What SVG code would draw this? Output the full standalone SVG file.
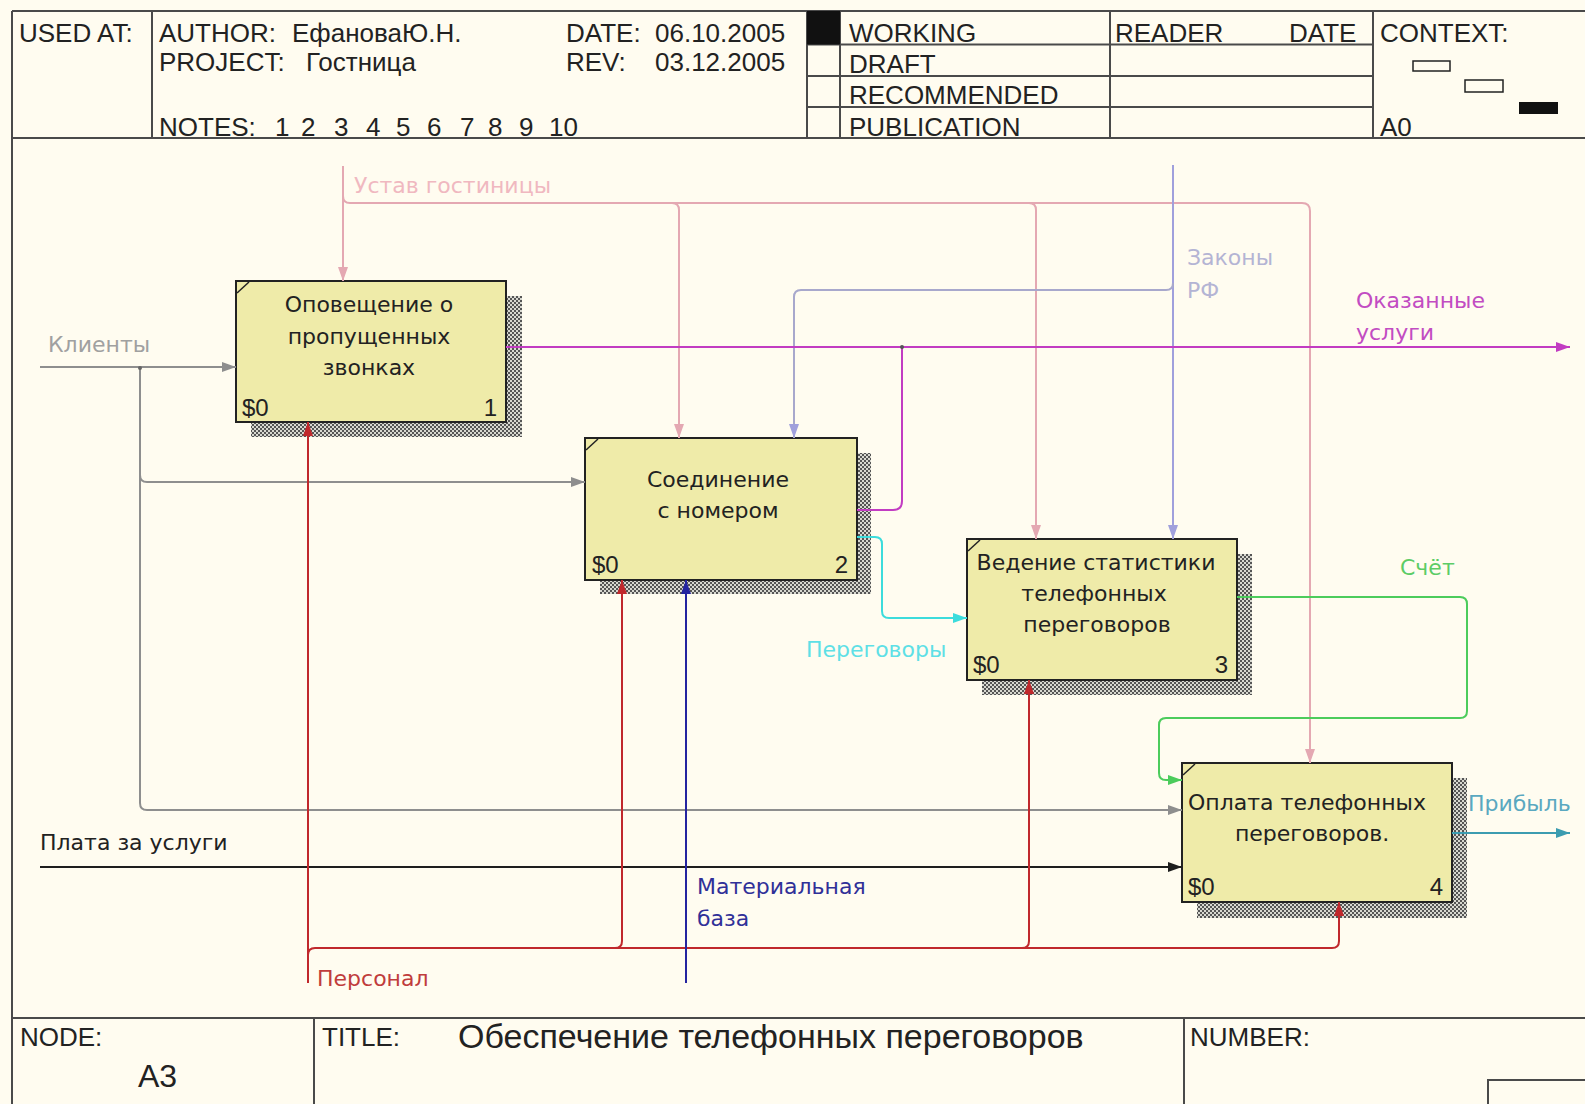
<svg xmlns="http://www.w3.org/2000/svg" width="1585" height="1104" viewBox="0 0 1585 1104">
<defs>
<pattern id="hatch" width="4" height="4" patternUnits="userSpaceOnUse">
<rect width="4" height="4" fill="#d8d8d0"/>
<rect width="2" height="2" fill="#555"/>
<rect x="2" y="2" width="2" height="2" fill="#555"/>
</pattern>
<marker id="mPink" markerUnits="userSpaceOnUse" markerWidth="14" markerHeight="10" refX="14" refY="5" orient="auto"><path d="M0,0 L14,5 L0,10 z" fill="#e4a8b2"/></marker>
<marker id="mLav" markerUnits="userSpaceOnUse" markerWidth="14" markerHeight="10" refX="14" refY="5" orient="auto"><path d="M0,0 L14,5 L0,10 z" fill="#a0a0dc"/></marker>
<marker id="mGray" markerUnits="userSpaceOnUse" markerWidth="14" markerHeight="10" refX="14" refY="5" orient="auto"><path d="M0,0 L14,5 L0,10 z" fill="#8e8e8e"/></marker>
<marker id="mMag" markerUnits="userSpaceOnUse" markerWidth="14" markerHeight="10" refX="14" refY="5" orient="auto"><path d="M0,0 L14,5 L0,10 z" fill="#c23cc2"/></marker>
<marker id="mCyan" markerUnits="userSpaceOnUse" markerWidth="14" markerHeight="10" refX="14" refY="5" orient="auto"><path d="M0,0 L14,5 L0,10 z" fill="#3cdcdc"/></marker>
<marker id="mGreen" markerUnits="userSpaceOnUse" markerWidth="14" markerHeight="10" refX="14" refY="5" orient="auto"><path d="M0,0 L14,5 L0,10 z" fill="#4ccc5c"/></marker>
<marker id="mTeal" markerUnits="userSpaceOnUse" markerWidth="14" markerHeight="10" refX="14" refY="5" orient="auto"><path d="M0,0 L14,5 L0,10 z" fill="#3c9cb0"/></marker>
<marker id="mBlack" markerUnits="userSpaceOnUse" markerWidth="14" markerHeight="10" refX="14" refY="5" orient="auto"><path d="M0,0 L14,5 L0,10 z" fill="#1e1e1e"/></marker>
<marker id="mRed" markerUnits="userSpaceOnUse" markerWidth="14" markerHeight="10" refX="14" refY="5" orient="auto"><path d="M0,0 L14,5 L0,10 z" fill="#c0282c"/></marker>
<marker id="mBlue" markerUnits="userSpaceOnUse" markerWidth="14" markerHeight="10" refX="14" refY="5" orient="auto"><path d="M0,0 L14,5 L0,10 z" fill="#2424a0"/></marker>
</defs>
<style>
.frame{stroke:#4a4a4a;stroke-width:2;fill:none}
.hdr{font-family:"Liberation Sans",Arial,sans-serif;font-size:26px;fill:#222}
.box{fill:#efeba9;stroke:#222;stroke-width:2}
.shadow{fill:url(#hatch)}
.tick{stroke:#222;stroke-width:1.5}
.bt{font-family:"DejaVu Sans",Verdana,sans-serif;font-size:22px;fill:#222;text-anchor:middle}
.bn{font-family:"Liberation Sans",Arial,sans-serif;font-size:24px;fill:#222}
.lbl{font-family:"DejaVu Sans",Verdana,sans-serif;font-size:22px}
.c{fill:none;stroke-width:2}
</style>
<rect width="1585" height="1104" fill="#fffcf0"/>

<g id="frame">
<path class="frame" d="M12,11 H1585 M12,11 V1104 M12,138 H1585 M152,11 V138 M807,11 V138 M840,11 V138 M1110,11 V138 M1373,11 V138 M807,44.5 H1373 M807,76 H1373 M807,107 H1373 M12,1018 H1585 M314,1018 V1104 M1184,1018 V1104"/>
<rect x="807" y="11" width="33" height="33.5" fill="#111"/>
<rect x="1488" y="1080" width="110" height="40" fill="none" stroke="#4a4a4a" stroke-width="2"/>
<rect x="1413" y="61" width="37" height="10" fill="none" stroke="#222" stroke-width="1.5"/>
<rect x="1465" y="80" width="38" height="12" fill="none" stroke="#222" stroke-width="1.5"/>
<rect x="1519" y="102" width="39" height="12" fill="#111"/>
<text class="hdr" x="19" y="42">USED AT:</text>
<text class="hdr" x="159" y="42">AUTHOR:</text>
<text class="hdr" x="292" y="42">ЕфановаЮ.Н.</text>
<text class="hdr" x="566" y="42">DATE:</text>
<text class="hdr" x="655" y="42">06.10.2005</text>
<text class="hdr" x="159" y="71">PROJECT:</text>
<text class="hdr" x="306" y="71">Гостница</text>
<text class="hdr" x="566" y="71">REV:</text>
<text class="hdr" x="655" y="71">03.12.2005</text>
<text class="hdr" y="136"><tspan x="159">NOTES:</tspan><tspan x="275">1</tspan><tspan x="301">2</tspan><tspan x="334">3</tspan><tspan x="366">4</tspan><tspan x="396">5</tspan><tspan x="427">6</tspan><tspan x="460">7</tspan><tspan x="488">8</tspan><tspan x="519">9</tspan><tspan x="549">10</tspan></text>
<text class="hdr" x="849" y="42">WORKING</text>
<text class="hdr" x="849" y="73">DRAFT</text>
<text class="hdr" x="849" y="104">RECOMMENDED</text>
<text class="hdr" x="849" y="136">PUBLICATION</text>
<text class="hdr" x="1115" y="42">READER</text>
<text class="hdr" x="1289" y="42">DATE</text>
<text class="hdr" x="1380" y="42">CONTEXT:</text>
<text class="hdr" x="1380" y="136">A0</text>
<text class="hdr" x="20" y="1046">NODE:</text>
<text class="hdr" x="138" y="1087" style="font-size:32px">A3</text>
<text class="hdr" x="322" y="1046">TITLE:</text>
<text class="hdr" x="458" y="1048" style="font-size:34px">Обеспечение телефонных переговоров</text>
<text class="hdr" x="1190" y="1046">NUMBER:</text>
</g>

<g id="node1">
<rect class="shadow" x="251" y="296" width="271" height="141"/>
<rect class="box" x="236" y="281" width="270" height="141"/>
<line class="tick" x1="237" y1="293" x2="249" y2="282"/>
<text class="bt" x="369" y="312">Оповещение о</text>
<text class="bt" x="369" y="344">пропущенных</text>
<text class="bt" x="369" y="375">звонках</text>
<text class="bn" x="242" y="416">$0</text>
<text class="bn" x="497" y="416" text-anchor="end">1</text>
</g>

<g id="node2">
<rect class="shadow" x="600" y="453" width="271" height="141"/>
<rect class="box" x="585" y="438" width="272" height="142"/>
<line class="tick" x1="586" y1="450" x2="598" y2="439"/>
<text class="bt" x="718" y="487">Соединение</text>
<text class="bt" x="718" y="518">с номером</text>
<text class="bn" x="592" y="573">$0</text>
<text class="bn" x="848" y="573" text-anchor="end">2</text>
</g>

<g id="node3">
<rect class="shadow" x="982" y="554" width="270" height="141"/>
<rect class="box" x="967" y="539" width="270" height="141"/>
<line class="tick" x1="968" y1="551" x2="980" y2="540"/>
<text class="bt" x="1096" y="570">Ведение статистики</text>
<text class="bt" x="1094" y="601">телефонных</text>
<text class="bt" x="1097" y="632">переговоров</text>
<text class="bn" x="973" y="673">$0</text>
<text class="bn" x="1228" y="673" text-anchor="end">3</text>
</g>

<g id="node4">
<rect class="shadow" x="1197" y="778" width="270" height="140"/>
<rect class="box" x="1182" y="763" width="270" height="139"/>
<line class="tick" x1="1183" y1="775" x2="1195" y2="764"/>
<text class="bt" x="1307" y="810">Оплата телефонных</text>
<text class="bt" x="1312" y="841">переговоров.</text>
<text class="bn" x="1188" y="895">$0</text>
<text class="bn" x="1443" y="895" text-anchor="end">4</text>
</g>

<g id="connectors">
<path class="c" stroke="#e4a8b2" d="M343,166 V281" marker-end="url(#mPink)"/>
<path class="c" stroke="#e4a8b2" d="M343,196 Q343,203 350,203 H1302 Q1310,203 1310,211 V763" marker-end="url(#mPink)"/>
<path class="c" stroke="#e4a8b2" d="M672,203 Q679,203 679,210 V438" marker-end="url(#mPink)"/>
<path class="c" stroke="#e4a8b2" d="M1029,203 Q1036,203 1036,210 V539" marker-end="url(#mPink)"/>
<path class="c" stroke="#a0a0dc" d="M1173,165 V539" marker-end="url(#mLav)"/>
<path class="c" stroke="#a8a8cc" d="M1173,283 Q1173,290 1166,290 H801 Q794,290 794,297 V438" marker-end="url(#mLav)"/>
<path class="c" stroke="#8e8e8e" d="M40,367 H236" marker-end="url(#mGray)"/>
<path class="c" stroke="#8e8e8e" d="M140,367 V803 Q140,810 147,810 H1182" marker-end="url(#mGray)"/>
<path class="c" stroke="#8e8e8e" d="M140,475 Q140,482 147,482 H585" marker-end="url(#mGray)"/>
<circle cx="140" cy="368" r="2" fill="#666"/>
<path class="c" stroke="#c23cc2" d="M506,347 H1570" marker-end="url(#mMag)"/>
<path class="c" stroke="#c23cc2" d="M857,510 H893 Q902,510 902,501 V347"/>
<circle cx="902" cy="347" r="2" fill="#555"/>
<path class="c" stroke="#3cdcdc" d="M857,537 H875 Q882,537 882,544 V611 Q882,618 889,618 H967" marker-end="url(#mCyan)"/>
<path class="c" stroke="#4ccc5c" d="M1237,597 H1460 Q1467,597 1467,604 V711 Q1467,718 1460,718 H1166 Q1159,718 1159,725 V773 Q1159,780 1166,780 H1182" marker-end="url(#mGreen)"/>
<path class="c" stroke="#3c9cb0" d="M1452,833 H1570" marker-end="url(#mTeal)"/>
<path class="c" stroke="#1e1e1e" d="M40,867 H1182" marker-end="url(#mBlack)"/>
<path class="c" stroke="#c0282c" d="M308,983 V422" marker-end="url(#mRed)"/>
<path class="c" stroke="#c0282c" d="M308,955 Q308,948 315,948 H1332 Q1339,948 1339,941 V902" marker-end="url(#mRed)"/>
<path class="c" stroke="#c0282c" d="M615,948 Q622,948 622,941 V580" marker-end="url(#mRed)"/>
<path class="c" stroke="#c0282c" d="M1022,948 Q1029,948 1029,941 V680" marker-end="url(#mRed)"/>
<path class="c" stroke="#2424a0" d="M686,983 V580" marker-end="url(#mBlue)"/>
<text class="lbl" x="354" y="193" fill="#f0b8c0">Устав гостиницы</text>
<text class="lbl" x="1187" y="265" fill="#b4b4d4">Законы</text>
<text class="lbl" x="1187" y="298" fill="#b4b4d4">РФ</text>
<text class="lbl" x="48" y="352" fill="#a0a0a0">Клиенты</text>
<text class="lbl" x="1356" y="308" fill="#c24cc2">Оказанные</text>
<text class="lbl" x="1356" y="340" fill="#c24cc2">услуги</text>
<text class="lbl" x="806" y="657" fill="#5ee0e6">Переговоры</text>
<text class="lbl" x="1400" y="575" fill="#5ccc66">Счёт</text>
<text class="lbl" x="1468" y="811" fill="#5aa8c0">Прибыль</text>
<text class="lbl" x="40" y="850" fill="#222">Плата за услуги</text>
<text class="lbl" x="697" y="894" fill="#303098">Материальная</text>
<text class="lbl" x="697" y="926" fill="#303098">база</text>
<text class="lbl" x="317" y="986" fill="#c03c3c">Персонал</text>
</g>
</svg>
